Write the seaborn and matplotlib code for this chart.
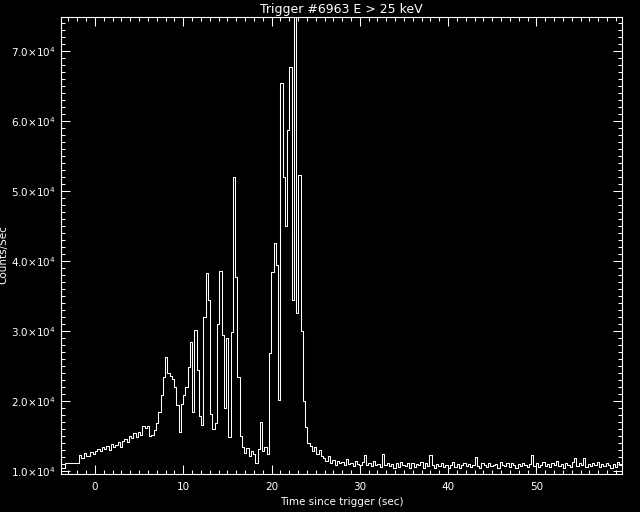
#!/usr/bin/env python3
import numpy as np
import pandas as pd
import seaborn as sns
import matplotlib
matplotlib.use('Agg')
import matplotlib.pyplot as plt
from matplotlib.ticker import MultipleLocator, FuncFormatter

# pre-trigger coarse bins
pre_times = [-3.9, -3.4]
pre_counts = [10500, 11150]

# 0.256 s bins from -1.792 s, four bins per row
bin_start = -1.792
bin_width = 0.256
counts = [
    12300, 11900, 12600, 12200,
    12100, 12700, 12400, 12900,
    13100, 12800, 13400, 13200,
    13600, 13000, 13900, 13500,
    13700, 14100, 13400, 14300,
    14600, 14200, 15000, 14700,
    15400, 14900, 15600, 15200,
    16400, 16200, 16500, 15000,
    15100, 15800, 16900, 18500,
    20800, 23500, 26300, 24000,
    23600, 23200, 22000, 19400,
    15600, 19600, 20800, 22000,
    24800, 28500, 18500, 30200,
    24500, 17800, 16600, 32000,
    38300, 34500, 18200, 16000,
    16800, 31000, 38600, 29500,
    19000, 29000, 14900, 29900,
    52100, 37800, 23500, 15000,
    13500, 12600, 13300, 12200,
    12900, 12400, 11200, 13100,
    17000, 12800, 13500, 12400,
    26900, 38500, 42600, 39500,
    20200, 65500, 52000, 45000,
    58800, 67800, 34500, 74900,
    32600, 52300, 30000, 20000,
    16300, 14000, 13600, 12900,
    13400, 12400, 13000, 12200,
    11800, 11400, 12100, 11200,
    11600, 10900, 11500, 11100,
    11300, 10800, 11700, 11000,
    11200, 10700, 11400, 11000,
    10900, 11300, 12300, 10800,
    11100, 10700, 11500, 10900,
    11000, 10600, 12500, 10800,
    11200, 10700, 11000, 10500,
    11100, 10600, 11300, 10900,
    10700, 11100, 10500, 11200,
    10600, 11000, 10800, 11300,
    10500, 11100, 10700, 12300,
    10800, 10500, 11000, 10700,
    11200, 10600, 10900, 10400,
    10800, 11300, 10600, 11000,
    10500, 10900, 11200, 10700,
    11000, 10600, 10800, 12000,
    10700, 10500, 11100, 10800,
    10600, 11200, 10700, 10900,
    11000, 10500, 11300, 10800,
    10700, 11100, 10600, 11200,
    10900, 10500, 11000, 10700,
    11200, 10800, 10600, 11000,
    12300, 10700, 11100, 10600,
    10900, 11300, 10700, 11000,
    10600, 11100, 10800, 11400,
    10700, 11000, 10500, 11200,
    10800, 10600, 11300, 11800,
    10700, 11100, 10900, 11800,
    10600, 11000, 10700, 11200,
    10800, 11300, 10600, 11000,
    10700, 11200, 10900, 10500,
    11000, 10600, 11300, 10800,
    10900,
]

title = 'Trigger #6963 E > 25 keV'
xlabel = 'Time since trigger (sec)'
ylabel = 'Counts/Sec'


def build_frame():
    '''step edges: bin starts plus the end of the last bin'''
    fine_t = bin_start + bin_width * np.arange(len(counts))
    t = np.concatenate([pre_times, fine_t, [fine_t[-1] + bin_width]])
    c = np.concatenate([pre_counts, counts, [counts[-1]]])
    return pd.DataFrame({'time': t, 'rate': c})


def sci_label(v, pos):
    m = v / 1e4
    return r'$\mathregular{%.1f{\times}10^{4}}$' % m


def main():
    sns.set_theme(style='ticks')
    plt.rcParams['font.family'] = ['DejaVu Sans']
    df = build_frame()

    fig = plt.figure(figsize=(6.4, 5.12), dpi=100, facecolor='black')
    ax = fig.add_axes([0.0953, 0.0742, 0.8766, 0.892])
    ax.set_facecolor('black')
    sns.lineplot(data=df, x='time', y='rate', ax=ax, color='white',
                 linewidth=0.75, drawstyle='steps-post', estimator=None)

    ax.set_xlim(-3.85, 59.7)
    ax.set_ylim(9570, 74860)
    ax.xaxis.set_major_locator(MultipleLocator(10))
    ax.xaxis.set_minor_locator(MultipleLocator(1))
    ax.yaxis.set_major_locator(MultipleLocator(10000))
    ax.yaxis.set_minor_locator(MultipleLocator(1000))
    ax.yaxis.set_major_formatter(FuncFormatter(sci_label))

    for s in ax.spines.values():
        s.set_color('white')
        s.set_linewidth(0.8)
    ax.tick_params(which='both', direction='in', top=True, right=True,
                   colors='white', width=0.75, labelsize=7.5)
    ax.tick_params(which='major', length=6.5)
    ax.tick_params(which='minor', length=3.2)
    ax.tick_params(axis='x', pad=6)
    ax.tick_params(axis='y', pad=4)

    ax.set_title(title, color='white', fontsize=9, pad=3)
    ax.set_xlabel(xlabel, color='white', fontsize=7.5, labelpad=3)
    ax.set_ylabel(ylabel, color='white', fontsize=7.5)
    ax.yaxis.set_label_coords(-0.093, 0.48)

    fig.savefig('out.png', dpi=100, facecolor='black')
    plt.close(fig)


if __name__ == '__main__':
    main()
